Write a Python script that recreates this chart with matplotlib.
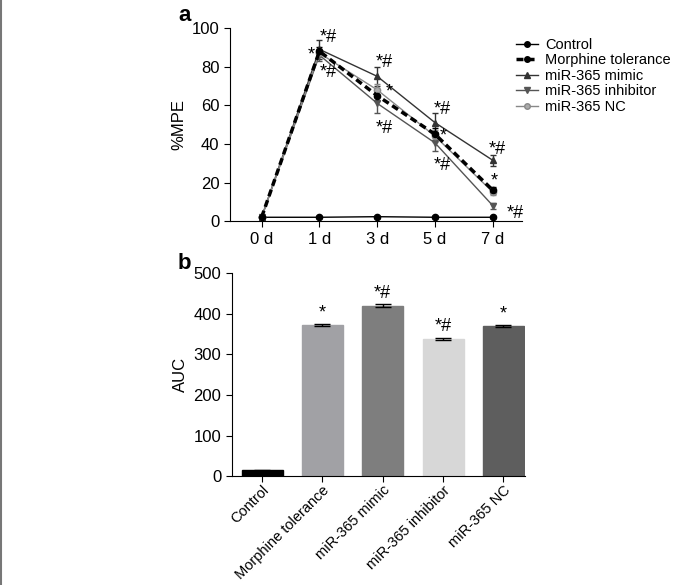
import numpy as np
import matplotlib
matplotlib.use("Agg")
import matplotlib.pyplot as plt
from matplotlib.lines import Line2D

plt.rcParams['font.family'] = ['Liberation Sans', 'DejaVu Sans']

# panel a data
days = ["0 d", "1 d", "3 d", "5 d", "7 d"]
control = [2, 2, 2.3, 2, 2]
morphine = [2, 88, 65, 45, 16]
mimic = [2, 89, 75, 51, 31.5]
inhibitor = [2, 86, 61, 40.5, 8]
nc = [2, 87, 68, 44, 15]
control_err = [0.5, 0.5, 0.5, 0.5, 0.5]
morphine_err = [1, 2, 3, 3, 1.5]
mimic_err = [1, 5, 5, 5, 3]
inhibitor_err = [1, 3, 5, 4, 1.5]
nc_err = [1, 2, 3, 3, 1.5]

# panel b data
groups = ["Control", "Morphine tolerance", "miR-365 mimic", "miR-365 inhibitor", "miR-365 NC"]
auc = [15, 372, 420, 338, 370]
auc_err = [1, 3, 3, 3, 3]
bar_colors = ["#000000", "#a1a1a5", "#7e7e7e", "#d7d7d7", "#5e5e5e"]
bar_marks = ["", "*", "*#", "*#", "*"]

fig = plt.figure(figsize=(6.82, 5.85), dpi=100)
fig.add_artist(Line2D([0.0015, 0.0015], [0, 1], color="#777777", lw=1.5))

# (label, color, marker, mfc, lw, ls)
styles = [
    ("Control", "black", "o", "black", 1, "-"),
    ("Morphine tolerance", "black", "o", "black", 2.5, (0, (2, 1.2))),
    ("miR-365 mimic", "#333333", "^", "#333333", 1, "-"),
    ("miR-365 inhibitor", "#555555", "v", "#555555", 1, "-"),
    ("miR-365 NC", "#888888", "o", "#aaaaaa", 1, "-"),
]
series = {"Control": (control, control_err), "Morphine tolerance": (morphine, morphine_err),
          "miR-365 mimic": (mimic, mimic_err), "miR-365 inhibitor": (inhibitor, inhibitor_err),
          "miR-365 NC": (nc, nc_err)}
draw_order = ["Control", "miR-365 mimic", "miR-365 inhibitor", "miR-365 NC", "Morphine tolerance"]
sd = {s[0]: s for s in styles}

x = np.arange(len(days))
ax = fig.add_axes([0.337, 0.622, 0.428, 0.33])
for name in draw_order:
    _, c, m, mfc, lw, ls = sd[name]
    vals, err = series[name]
    ax.errorbar(x, vals, yerr=err, color=c, marker=m, ms=4.5, mfc=mfc, mec=c, lw=lw, ls=ls,
                capsize=2, elinewidth=1)

ax.set_xlim(-0.55, 4.5)
ax.set_ylim(0, 100)
ax.set_xticks(x)
ax.set_xticklabels(days, fontsize=12)
ax.set_yticks([0, 20, 40, 60, 80, 100])
ax.tick_params(labelsize=12, length=4)
ax.set_ylabel("%MPE", fontsize=12)
for s in ["top", "right"]:
    ax.spines[s].set_visible(False)

# significance marks
ann = [
    (1.15, 95, "*#"), (0.85, 86, "*"), (1.15, 77, "*#"),
    (2.12, 82, "*#"), (2.2, 67, "*"), (2.12, 48, "*#"),
    (3.12, 58, "*#"), (3.15, 44, "*"), (3.12, 29, "*#"),
    (4.08, 37, "*#"), (4.02, 21, "*"), (4.38, 4, "*#"),
]
for xi, yi, t in ann:
    ax.text(xi, yi, t, ha="center", va="center", fontsize=13)

handles = [Line2D([], [], color=c, marker=m, ms=4, mfc=mfc, mec=c, lw=lw, ls=ls)
           for _, c, m, mfc, lw, ls in styles]
ax.legend(handles, [s[0] for s in styles], loc="upper left", bbox_to_anchor=(0.96, 0.98),
          frameon=False, fontsize=10.5, handlelength=1.5, handletextpad=0.5,
          labelspacing=0.1, borderaxespad=0.0)
fig.text(0.262, 0.992, "a", fontsize=16, fontweight="bold", va="top")

# panel b
xb = np.arange(len(groups))
bx = fig.add_axes([0.340, 0.186, 0.43, 0.347])
bx.bar(xb, auc, width=0.68, color=bar_colors, edgecolor=bar_colors, yerr=auc_err,
       capsize=6, error_kw=dict(lw=1, capthick=1))
for xi, v, e, t in zip(xb, auc, auc_err, bar_marks):
    if t:
        bx.text(xi, v + e + 6, t, ha="center", va="bottom", fontsize=13)
bx.set_xlim(-0.5, 4.36)
bx.set_ylim(0, 500)
bx.set_yticks([0, 100, 200, 300, 400, 500])
bx.set_xticks(xb)
bx.set_xticklabels(groups, rotation=45, ha="right", rotation_mode="anchor", fontsize=10.5)
bx.tick_params(labelsize=12, length=4)
bx.tick_params(axis="x", pad=1, labelsize=10.5)
bx.set_ylabel("AUC", fontsize=12)
for s in ["top", "right"]:
    bx.spines[s].set_visible(False)
fig.text(0.261, 0.568, "b", fontsize=16, fontweight="bold", va="top")

fig.savefig("out.png", dpi=100)
